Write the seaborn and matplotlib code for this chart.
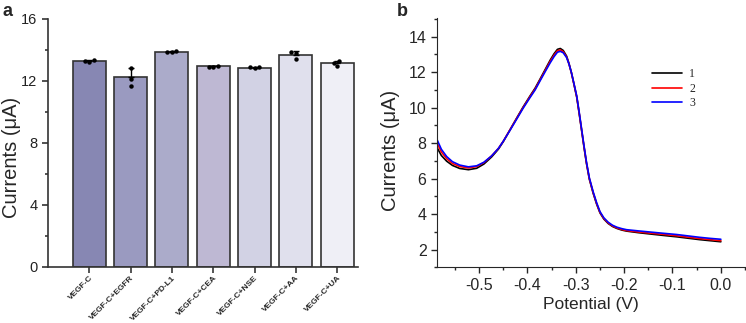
import numpy as np
import pandas as pd
import matplotlib.pyplot as plt
import seaborn as sns
from matplotlib.ticker import MultipleLocator, FormatStrFormatter

# panel a: selectivity, three replicate measurements per sample
groups = ["VEGF-C", "VEGF-C+EGFR", "VEGF-C+PD-L1", "VEGF-C+CEA",
          "VEGF-C+NSE", "VEGF-C+AA", "VEGF-C+UA"]
rep1 = [13.25, 12.86, 13.85, 12.98, 12.82, 13.83, 13.27]
rep2 = [13.29, 12.13, 13.89, 12.92, 12.88, 13.85, 13.18]
rep3 = [13.35, 11.70, 13.94, 12.90, 12.90, 13.40, 12.97]
bar_colors = ["#8080ba", "#9494c6", "#a6a6cf", "#bbb4d7", "#cfcfe7", "#dedeef", "#eeeef7"]

# panel b: DPV curves of three repeated scans
potential = [-0.587, -0.578, -0.567, -0.555, -0.54, -0.522, -0.505, -0.49, -0.474, -0.46,
             -0.45, -0.436, -0.422, -0.409, -0.395, -0.384, -0.374, -0.363, -0.353, -0.345,
             -0.338, -0.332, -0.326, -0.319, -0.314, -0.309, -0.304, -0.298, -0.293, -0.288,
             -0.283, -0.278, -0.272, -0.264, -0.257, -0.25, -0.242, -0.233, -0.224, -0.215,
             -0.205, -0.195, -0.17, -0.147, -0.12, -0.092, -0.068, -0.044, -0.022, 0.0]
scan1 = [7.75, 7.3, 6.98, 6.74, 6.57, 6.5, 6.58, 6.82, 7.22, 7.66,
         8.08, 8.75, 9.42, 10.03, 10.64, 11.1, 11.6, 12.16, 12.67, 13.03,
         13.28, 13.33, 13.22, 12.9, 12.48, 11.96, 11.34, 10.58, 9.67, 8.72,
         7.77, 6.87, 5.97, 5.17, 4.57, 4.07, 3.72, 3.47, 3.3, 3.19,
         3.1, 3.04, 2.95, 2.88, 2.8, 2.72, 2.64, 2.56, 2.5, 2.44]
scan2 = [8.0, 7.5, 7.12, 6.85, 6.68, 6.6, 6.68, 6.9, 7.28, 7.7,
         8.1, 8.75, 9.4, 10.0, 10.6, 11.05, 11.55, 12.1, 12.6, 12.95,
         13.2, 13.25, 13.15, 12.85, 12.45, 11.95, 11.35, 10.6, 9.7, 8.75,
         7.8, 6.9, 6.0, 5.2, 4.6, 4.1, 3.75, 3.5, 3.33, 3.22,
         3.13, 3.07, 2.99, 2.93, 2.86, 2.78, 2.7, 2.62, 2.56, 2.5]
scan3 = [8.2, 7.65, 7.24, 6.95, 6.76, 6.66, 6.72, 6.92, 7.28, 7.7,
         8.1, 8.72, 9.36, 9.96, 10.55, 11.0, 11.5, 12.04, 12.52, 12.87,
         13.12, 13.17, 13.09, 12.82, 12.45, 11.97, 11.38, 10.65, 9.75, 8.8,
         7.85, 6.95, 6.05, 5.25, 4.65, 4.14, 3.79, 3.54, 3.37, 3.26,
         3.18, 3.12, 3.05, 2.99, 2.92, 2.85, 2.77, 2.69, 2.63, 2.58]
scan_labels = ["1", "2", "3"]
scan_colors = ["black", "red", "blue"]

sns.set_style("ticks")
plt.rcParams['font.family'] = ['Liberation Sans', 'DejaVu Sans']
plt.rcParams['axes.unicode_minus'] = False

dfA = pd.DataFrame({'group': groups * 3, 'current': rep1 + rep2 + rep3})
dfB = pd.DataFrame({'potential': potential * 3,
                    'current': scan1 + scan2 + scan3,
                    'scan': [scan_labels[0]] * len(potential) + [scan_labels[1]] * len(potential)
                            + [scan_labels[2]] * len(potential)})

fig = plt.figure(figsize=(7.46, 3.23), dpi=100)
axA = fig.add_axes([0.0643, 0.1734, 0.4155, 0.768])
axB = fig.add_axes([0.5858, 0.1724, 0.4129, 0.772])

# ---- panel a ----
sns.barplot(data=dfA, x='group', y='current', hue='group', palette=bar_colors,
            errorbar=None, width=0.8, edgecolor='#333333', linewidth=1.2,
            legend=False, ax=axA, zorder=2)
stats = dfA.groupby('group', sort=False)['current'].agg(['mean', 'std'])
axA.errorbar(range(len(groups)), stats['mean'],
             yerr=[np.zeros(len(groups)), stats['std']],
             fmt='none', ecolor='black', elinewidth=1, capsize=2.5, capthick=1, zorder=3)
sns.swarmplot(data=dfA, x='group', y='current', color='black', size=3.2, ax=axA, zorder=4)

axA.set_ylim(0, 16)
axA.set_xlim(-1, 6.5)
axA.yaxis.set_major_locator(MultipleLocator(4))
axA.yaxis.set_minor_locator(MultipleLocator(2))
axA.set_ylabel('Currents (μA)', fontsize=14.5)
axA.yaxis.set_label_coords(-0.088, 0.44)
axA.set_xlabel('')
axA.tick_params(axis='y', which='major', length=4, width=1.1, labelsize=10.5, colors='#222222')
axA.tick_params(axis='y', which='minor', length=2.5, width=1.1)
axA.tick_params(axis='x', length=4, width=1.1, pad=1.5)
axA.set_xticks(range(len(groups)))
axA.set_xticklabels(groups, rotation=45, ha='right', rotation_mode='anchor',
                    fontsize=6, fontweight='bold')
for s in ['left', 'bottom']:
    axA.spines[s].set_linewidth(1.2)
    axA.spines[s].set_color('#333333')
sns.despine(ax=axA)

# ---- panel b ----
sns.lineplot(data=dfB, x='potential', y='current', hue='scan', palette=scan_colors,
             linewidth=1.2, estimator=None, sort=False, ax=axB)
axB.set_xlim(-0.587, 0.05)
axB.set_ylim(1.0, 15.05)
axB.xaxis.set_major_locator(MultipleLocator(0.1))
axB.xaxis.set_minor_locator(MultipleLocator(0.05))
axB.xaxis.set_major_formatter(FormatStrFormatter('%.1f'))
axB.yaxis.set_minor_locator(MultipleLocator(1))
axB.set_yticks([2, 4, 6, 8, 10, 12, 14])
axB.tick_params(which='major', length=4, width=1, labelsize=11.5)
axB.tick_params(which='minor', length=2.5, width=1)
axB.set_xlabel('Potential (V)', fontsize=12.5, labelpad=3)
axB.set_ylabel('Currents (μA)', fontsize=14.5)
axB.yaxis.set_label_coords(-0.12, 0.47)
sns.despine(ax=axB)
axB.legend(title=None, frameon=False, loc='upper left', bbox_to_anchor=(0.665, 0.84),
           prop={'family': 'Liberation Serif', 'size': 8.5},
           handlelength=2.5, labelspacing=0.2, handletextpad=0.6)

fig.text(0.003, 0.99, 'a', fontsize=13, fontweight='bold', va='top')
fig.text(0.532, 0.99, 'b', fontsize=13, fontweight='bold', va='top')

fig.savefig('out.png', dpi=100)
